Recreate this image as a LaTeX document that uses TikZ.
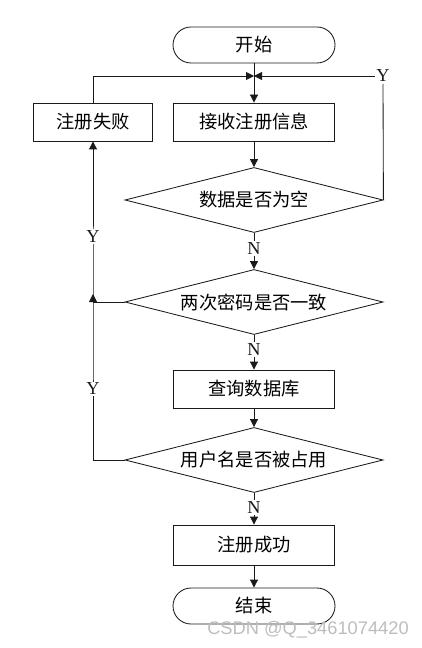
\documentclass[tikz,border=0pt]{standalone}
\usepackage{fontspec}
\setmainfont{Liberation Serif}
\newfontfamily\cjk{Noto Sans CJK SC}
\newfontfamily\marcafont{Liberation Sans}
\usetikzlibrary{arrows.meta, shapes.geometric, calc}
\definecolor{trazo}{HTML}{1A1A1A}
\definecolor{marca}{HTML}{BDBDBD}
\tikzset{
  every picture/.style={line width=0.6pt},
  terminal/.style={draw=trazo, rectangle, rounded corners=0.45cm, minimum width=4.05cm, minimum height=0.9cm,
              inner sep=0pt, font=\cjk\fontsize{13}{15}\selectfont},
  proceso/.style={draw=trazo, rectangle, minimum width=4.03cm, minimum height=0.95cm,
              inner sep=0pt, font=\cjk\fontsize{13}{15}\selectfont},
  decision/.style={draw=trazo, diamond, aspect=4, minimum width=6.45cm, minimum height=1.625cm,
              inner sep=0pt, font=\cjk\fontsize{13}{15}\selectfont},
  etiq/.style={fill=white, inner sep=1pt, text=trazo, font=\fontsize{13}{15}\selectfont},
  flecha/.style={-{Triangle[length=0.2cm, width=0.2cm]}, draw=trazo},
  linea/.style={draw=trazo},
}
\begin{document}
\begin{tikzpicture}
  \useasboundingbox (0,0) rectangle (10.525,-16.2);
  \node[terminal] (inicio) at (6.35,-1.125) {开始};
  \node[proceso] (recibir) at (6.35,-3.05) {接收注册信息};
  \node[proceso, minimum width=2.98cm] (fallo) at (2.325,-3.05) {注册失败};
  \node[decision] (vacio) at (6.35,-5.0) {数据是否为空};
  \node[decision] (clave) at (6.35,-7.55) {两次密码是否一致};
  \node[proceso] (consulta) at (6.35,-9.725) {查询数据库};
  \node[decision] (usuario) at (6.35,-11.5) {用户名是否被占用};
  \node[proceso, minimum height=1.0cm] (exito) at (6.35,-13.625) {注册成功};
  \node[terminal] (fin) at (6.35,-15.15) {结束};
  \coordinate (cruce) at (6.35,-1.9);
  \coordinate (izqc) at (clave.west -| fallo.south);
  \coordinate (izqu) at (usuario.west -| fallo.south);
  \node[etiq] (ysup) at (9.575,-1.9) {Y};
  \draw[flecha] (inicio) -- (recibir); \draw[flecha] (recibir) -- (vacio);
  \draw[flecha] (fallo.north) |- (cruce);
  \draw[linea] (vacio.east) -- (ysup.south); \draw[flecha] (ysup.west) -- (cruce);
  \draw[flecha] (vacio.south) -- node[etiq, pos=0.43] {N} (clave.north);
  \draw[flecha] (clave.south) -- node[etiq, pos=0.43] {N} (consulta.north);
  \draw[flecha] (consulta) -- (usuario);
  \draw[flecha] (usuario.south) -- node[etiq, pos=0.47] {N} (exito.north);
  \draw[flecha] (exito) -- (fin);
  \draw[flecha] (clave.west) -- (izqc) -- ([yshift=0.2cm]izqc);
  \draw[flecha] (usuario.west) -- (izqu) -- node[etiq, pos=0.45] {Y} (izqc) -- node[etiq, pos=0.41] {Y} (fallo.south);
  \node[text=marca, font=\marcafont\fontsize{13}{15}\selectfont] (marca) at (7.7,-15.75) {CSDN @Q\_3461074420};
\end{tikzpicture}
\end{document}
